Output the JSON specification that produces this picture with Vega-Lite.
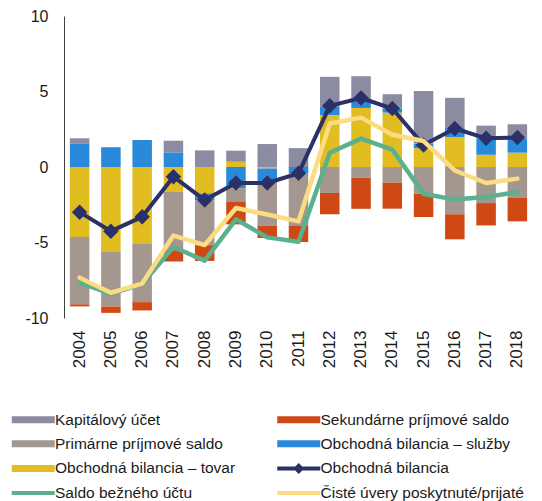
{
  "$schema": "https://vega.github.io/schema/vega-lite/v6.json",
  "width": 469,
  "height": 302,
  "autosize": "none",
  "padding": {"left": 64, "top": 16, "right": 9, "bottom": 183},
  "datasets": {
    "bars": [
      {"year": 2004, "series": "Obchodná bilancia – tovar", "value": -4.63},
      {"year": 2004, "series": "Obchodná bilancia – služby", "value": 1.57},
      {"year": 2004, "series": "Primárne príjmové saldo", "value": -4.47},
      {"year": 2004, "series": "Sekundárne príjmové saldo", "value": -0.13},
      {"year": 2004, "series": "Kapitálový účet", "value": 0.33},
      {"year": 2005, "series": "Obchodná bilancia – tovar", "value": -5.63},
      {"year": 2005, "series": "Obchodná bilancia – služby", "value": 1.31},
      {"year": 2005, "series": "Primárne príjmové saldo", "value": -3.61},
      {"year": 2005, "series": "Sekundárne príjmové saldo", "value": -0.42},
      {"year": 2005, "series": "Kapitálový účet", "value": 0},
      {"year": 2006, "series": "Obchodná bilancia – tovar", "value": -5.1},
      {"year": 2006, "series": "Obchodná bilancia – služby", "value": 1.79},
      {"year": 2006, "series": "Primárne príjmové saldo", "value": -3.85},
      {"year": 2006, "series": "Sekundárne príjmové saldo", "value": -0.55},
      {"year": 2006, "series": "Kapitálový účet", "value": 0},
      {"year": 2007, "series": "Obchodná bilancia – tovar", "value": -1.66},
      {"year": 2007, "series": "Obchodná bilancia – služby", "value": 0.97},
      {"year": 2007, "series": "Primárne príjmové saldo", "value": -3.85},
      {"year": 2007, "series": "Sekundárne príjmové saldo", "value": -0.75},
      {"year": 2007, "series": "Kapitálový účet", "value": 0.77},
      {"year": 2008, "series": "Obchodná bilancia – tovar", "value": -1.75},
      {"year": 2008, "series": "Obchodná bilancia – služby", "value": -0.45},
      {"year": 2008, "series": "Primárne príjmové saldo", "value": -2.98},
      {"year": 2008, "series": "Sekundárne príjmové saldo", "value": -1.04},
      {"year": 2008, "series": "Kapitálový účet", "value": 1.1},
      {"year": 2009, "series": "Obchodná bilancia – tovar", "value": 0.35},
      {"year": 2009, "series": "Obchodná bilancia – služby", "value": -1.4},
      {"year": 2009, "series": "Primárne príjmové saldo", "value": -0.88},
      {"year": 2009, "series": "Sekundárne príjmové saldo", "value": -1.52},
      {"year": 2009, "series": "Kapitálový účet", "value": 0.73},
      {"year": 2010, "series": "Obchodná bilancia – tovar", "value": -0.1},
      {"year": 2010, "series": "Obchodná bilancia – služby", "value": -0.95},
      {"year": 2010, "series": "Primárne príjmové saldo", "value": -2.83},
      {"year": 2010, "series": "Sekundárne príjmové saldo", "value": -0.82},
      {"year": 2010, "series": "Kapitálový účet", "value": 1.52},
      {"year": 2011, "series": "Obchodná bilancia – tovar", "value": 0},
      {"year": 2011, "series": "Obchodná bilancia – služby", "value": -0.44},
      {"year": 2011, "series": "Primárne príjmové saldo", "value": -3.43},
      {"year": 2011, "series": "Sekundárne príjmové saldo", "value": -1.1},
      {"year": 2011, "series": "Kapitálový účet", "value": 1.25},
      {"year": 2012, "series": "Obchodná bilancia – tovar", "value": 3.43},
      {"year": 2012, "series": "Obchodná bilancia – služby", "value": 0.55},
      {"year": 2012, "series": "Primárne príjmové saldo", "value": -1.72},
      {"year": 2012, "series": "Sekundárne príjmové saldo", "value": -1.41},
      {"year": 2012, "series": "Kapitálový účet", "value": 1.99},
      {"year": 2013, "series": "Obchodná bilancia – tovar", "value": 3.91},
      {"year": 2013, "series": "Obchodná bilancia – služby", "value": 0.45},
      {"year": 2013, "series": "Primárne príjmové saldo", "value": -0.71},
      {"year": 2013, "series": "Sekundárne príjmové saldo", "value": -2.06},
      {"year": 2013, "series": "Kapitálový účet", "value": 1.65},
      {"year": 2014, "series": "Obchodná bilancia – tovar", "value": 3.6},
      {"year": 2014, "series": "Obchodná bilancia – služby", "value": 0.27},
      {"year": 2014, "series": "Primárne príjmové saldo", "value": -1.04},
      {"year": 2014, "series": "Sekundárne príjmové saldo", "value": -1.72},
      {"year": 2014, "series": "Kapitálový účet", "value": 0.95},
      {"year": 2015, "series": "Obchodná bilancia – tovar", "value": 1.25},
      {"year": 2015, "series": "Obchodná bilancia – služby", "value": 0.3},
      {"year": 2015, "series": "Primárne príjmové saldo", "value": -1.77},
      {"year": 2015, "series": "Sekundárne príjmové saldo", "value": -1.54},
      {"year": 2015, "series": "Kapitálový účet", "value": 3.49},
      {"year": 2016, "series": "Obchodná bilancia – tovar", "value": 1.98},
      {"year": 2016, "series": "Obchodná bilancia – služby", "value": 0.6},
      {"year": 2016, "series": "Primárne príjmové saldo", "value": -3.13},
      {"year": 2016, "series": "Sekundárne príjmové saldo", "value": -1.66},
      {"year": 2016, "series": "Kapitálový účet", "value": 2.0},
      {"year": 2017, "series": "Obchodná bilancia – tovar", "value": 0.81},
      {"year": 2017, "series": "Obchodná bilancia – služby", "value": 1.1},
      {"year": 2017, "series": "Primárne príjmové saldo", "value": -2.39},
      {"year": 2017, "series": "Sekundárne príjmové saldo", "value": -1.48},
      {"year": 2017, "series": "Kapitálový účet", "value": 0.83},
      {"year": 2018, "series": "Obchodná bilancia – tovar", "value": 0.95},
      {"year": 2018, "series": "Obchodná bilancia – služby", "value": 0.95},
      {"year": 2018, "series": "Primárne príjmové saldo", "value": -2.05},
      {"year": 2018, "series": "Sekundárne príjmové saldo", "value": -1.55},
      {"year": 2018, "series": "Kapitálový účet", "value": 0.93}
    ],
    "stackorder": [
      {"series": "Obchodná bilancia – tovar", "rank": 1},
      {"series": "Obchodná bilancia – služby", "rank": 2},
      {"series": "Primárne príjmové saldo", "rank": 3},
      {"series": "Sekundárne príjmové saldo", "rank": 4},
      {"series": "Kapitálový účet", "rank": 5}
    ],
    "lines": [
      {"year": 2004, "series": "Obchodná bilancia", "value": -2.99},
      {"year": 2005, "series": "Obchodná bilancia", "value": -4.25},
      {"year": 2006, "series": "Obchodná bilancia", "value": -3.3},
      {"year": 2007, "series": "Obchodná bilancia", "value": -0.64},
      {"year": 2008, "series": "Obchodná bilancia", "value": -2.19},
      {"year": 2009, "series": "Obchodná bilancia", "value": -1.06},
      {"year": 2010, "series": "Obchodná bilancia", "value": -1.06},
      {"year": 2011, "series": "Obchodná bilancia", "value": -0.42},
      {"year": 2012, "series": "Obchodná bilancia", "value": 4.05},
      {"year": 2013, "series": "Obchodná bilancia", "value": 4.57},
      {"year": 2014, "series": "Obchodná bilancia", "value": 3.87},
      {"year": 2015, "series": "Obchodná bilancia", "value": 1.45},
      {"year": 2016, "series": "Obchodná bilancia", "value": 2.55},
      {"year": 2017, "series": "Obchodná bilancia", "value": 1.9},
      {"year": 2018, "series": "Obchodná bilancia", "value": 1.95},
      {"year": 2004, "series": "Saldo bežného účtu", "value": -7.65},
      {"year": 2005, "series": "Saldo bežného účtu", "value": -8.4},
      {"year": 2006, "series": "Saldo bežného účtu", "value": -7.75},
      {"year": 2007, "series": "Saldo bežného účtu", "value": -5.3},
      {"year": 2008, "series": "Saldo bežného účtu", "value": -6.2},
      {"year": 2009, "series": "Saldo bežného účtu", "value": -3.47},
      {"year": 2010, "series": "Saldo bežného účtu", "value": -4.66},
      {"year": 2011, "series": "Saldo bežného účtu", "value": -4.95},
      {"year": 2012, "series": "Saldo bežného účtu", "value": 0.94},
      {"year": 2013, "series": "Saldo bežného účtu", "value": 1.88},
      {"year": 2014, "series": "Saldo bežného účtu", "value": 1.15},
      {"year": 2015, "series": "Saldo bežného účtu", "value": -1.77},
      {"year": 2016, "series": "Saldo bežného účtu", "value": -2.16},
      {"year": 2017, "series": "Saldo bežného účtu", "value": -1.99},
      {"year": 2018, "series": "Saldo bežného účtu", "value": -1.66},
      {"year": 2004, "series": "Čisté úvery poskytnuté/prijaté", "value": -7.33},
      {"year": 2005, "series": "Čisté úvery poskytnuté/prijaté", "value": -8.33},
      {"year": 2006, "series": "Čisté úvery poskytnuté/prijaté", "value": -7.72},
      {"year": 2007, "series": "Čisté úvery poskytnuté/prijaté", "value": -4.54},
      {"year": 2008, "series": "Čisté úvery poskytnuté/prijaté", "value": -5.17},
      {"year": 2009, "series": "Čisté úvery poskytnuté/prijaté", "value": -2.72},
      {"year": 2010, "series": "Čisté úvery poskytnuté/prijaté", "value": -3.15},
      {"year": 2011, "series": "Čisté úvery poskytnuté/prijaté", "value": -3.6},
      {"year": 2012, "series": "Čisté úvery poskytnuté/prijaté", "value": 2.88},
      {"year": 2013, "series": "Čisté úvery poskytnuté/prijaté", "value": 3.27},
      {"year": 2014, "series": "Čisté úvery poskytnuté/prijaté", "value": 2.14},
      {"year": 2015, "series": "Čisté úvery poskytnuté/prijaté", "value": 1.72},
      {"year": 2016, "series": "Čisté úvery poskytnuté/prijaté", "value": -0.23},
      {"year": 2017, "series": "Čisté úvery poskytnuté/prijaté", "value": -1.06},
      {"year": 2018, "series": "Čisté úvery poskytnuté/prijaté", "value": -0.77}
    ]
  },
  "layer": [
    {
      "data": {"name": "bars"},
      "transform": [
        {"lookup": "series", "from": {"data": {"name": "stackorder"}, "key": "series", "fields": ["rank"]}}
      ],
      "mark": {"type": "bar"},
      "encoding": {
        "x": {"field": "year", "type": "ordinal", "title": null,
              "scale": {"paddingInner": 0.376, "paddingOuter": 0.188}},
        "y": {"field": "value", "type": "quantitative", "stack": "zero", "title": null,
              "scale": {"domain": [-10, 10], "nice": false, "zero": false},
              "axis": {"values": [-10, -5, 0, 5, 10], "labelExpr": "datum.value + ''"}},
        "color": {
          "field": "series", "type": "nominal",
          "scale": {
            "domain": ["Kapitálový účet", "Sekundárne príjmové saldo", "Primárne príjmové saldo", "Obchodná bilancia – služby", "Obchodná bilancia – tovar", "Obchodná bilancia", "Saldo bežného účtu", "Čisté úvery poskytnuté/prijaté"],
            "range": ["#8b8ba2", "#cf4914", "#a3978f", "#2a8ada", "#e2bd21", "#2b3168", "#5bb08d", "#fcdc83"]
          },
          "legend": {
            "title": null,
            "orient": "none",
            "direction": "horizontal",
            "legendX": -52,
            "legendY": 395.5,
            "columns": 2,
            "columnPadding": 40.5,
            "rowPadding": 7.6,
            "padding": 0,
            "symbolSize": 100,
            "symbolOffset": 13.5,
            "labelOffset": 14,
            "labelFont": "Liberation Sans",
            "labelFontSize": 15.5,
            "labelColor": "#1a1a1a",
            "labelLimit": 0,
            "encode": {
              "symbols": {
                "update": {
                  "shape": {"signal": "datum.value === 'Obchodná bilancia' ? 'M-4.3,-0.4H-0.7L0,-1.1L0.7,-0.4H4.3V0.4H0.7L0,1.1L-0.7,0.4H-4.3Z' : ((datum.value === 'Saldo bežného účtu' || datum.value === 'Čisté úvery poskytnuté/prijaté') ? 'M-4.3,-0.4H4.3V0.4H-4.3Z' : 'M-4.3,-0.7H4.3V0.7H-4.3Z')"},
                  "fill": {"signal": "scale('color', datum.value)"},
                  "stroke": {"value": "transparent"},
                  "strokeWidth": {"value": 0},
                  "opacity": {"value": 1}
                }
              }
            }
          }
        },
        "order": {"field": "rank", "type": "quantitative", "sort": "ascending"}
      }
    },
    {
      "mark": {"type": "rule", "color": "#2b2b2b", "strokeWidth": 1.2},
      "encoding": {"y": {"datum": 0, "type": "quantitative"}}
    },
    {
      "data": {"name": "lines"},
      "transform": [{"filter": {"field": "series", "equal": "Obchodná bilancia"}}],
      "mark": {"type": "line", "strokeWidth": 4, "strokeJoin": "round",
               "point": {"shape": "diamond", "size": 240, "filled": true, "opacity": 1}},
      "encoding": {
        "x": {"field": "year", "type": "ordinal", "title": null},
        "y": {"field": "value", "type": "quantitative", "title": null},
        "color": {"field": "series", "type": "nominal"}
      }
    },
    {
      "data": {"name": "lines"},
      "transform": [{"filter": {"field": "series", "equal": "Saldo bežného účtu"}}],
      "mark": {"type": "line", "strokeWidth": 4.5, "strokeJoin": "round", "strokeCap": "round"},
      "encoding": {
        "x": {"field": "year", "type": "ordinal", "title": null},
        "y": {"field": "value", "type": "quantitative", "title": null},
        "color": {"field": "series", "type": "nominal"}
      }
    },
    {
      "data": {"name": "lines"},
      "transform": [{"filter": {"field": "series", "equal": "Čisté úvery poskytnuté/prijaté"}}],
      "mark": {"type": "line", "strokeWidth": 4.5, "strokeJoin": "round", "strokeCap": "round"},
      "encoding": {
        "x": {"field": "year", "type": "ordinal", "title": null},
        "y": {"field": "value", "type": "quantitative", "title": null},
        "color": {"field": "series", "type": "nominal"}
      }
    }
  ],
  "config": {
    "view": {"stroke": null},
    "font": "Liberation Sans",
    "axis": {"grid": false, "ticks": false, "labelFont": "Liberation Sans", "labelColor": "#1a1a1a", "title": null},
    "axisX": {"domain": false, "labelAngle": 270, "labelFontSize": 17, "labelPadding": 12},
    "axisY": {"domain": true, "domainColor": "#404040", "domainWidth": 1, "labelFontSize": 16, "labelPadding": 16}
  }
}
